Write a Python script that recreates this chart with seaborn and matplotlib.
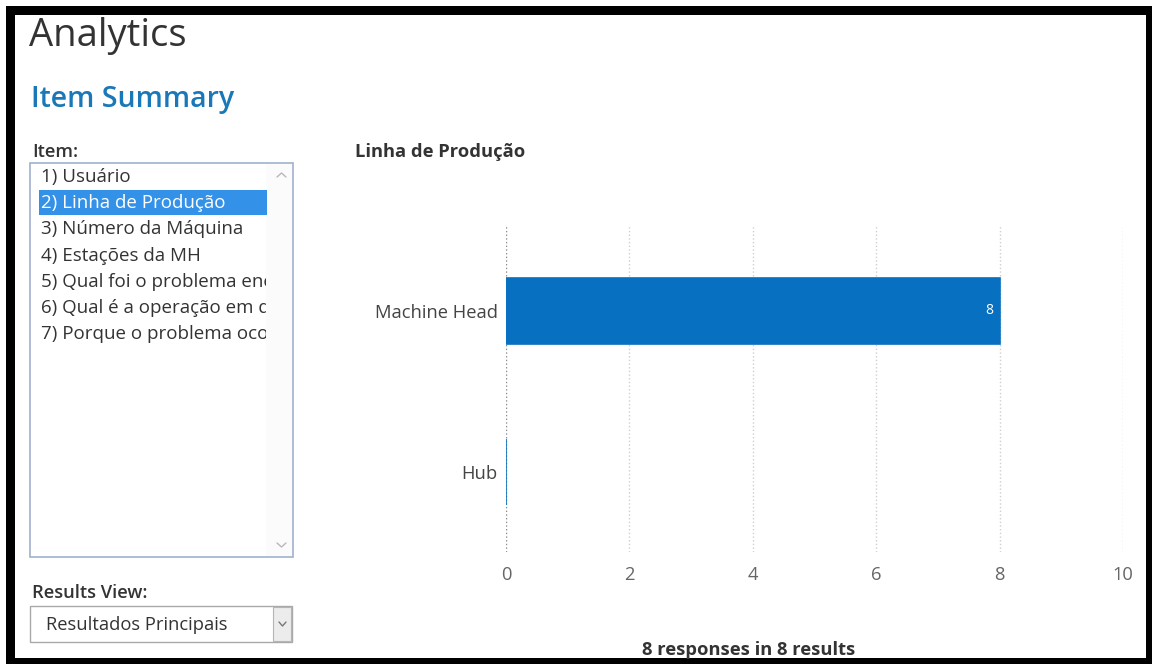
import matplotlib
matplotlib.use("Agg")
import matplotlib.pyplot as plt
from matplotlib.patches import Rectangle
from matplotlib.lines import Line2D
import seaborn as sns
import pandas as pd

# Chart data
categories = ["Machine Head", "Hub"]
counts = [8, 0]
x_ticks = [0, 2, 4, 6, 8, 10]

# Side panel contents
item_list = [
    "1) Usuário",
    "2) Linha de Produção",
    "3) Número da Máquina",
    "4) Estações da MH",
    "5) Qual foi o problema enc",
    "6) Qual é a operação em q",
    "7) Porque o problema oco",
]
selected_item = 1
chart_title = "Linha de Produção"
results_view = "Resultados Principais"
footer = "8 responses in 8 results"

sns.set_theme(style="white")
plt.rcParams["font.family"] = ["Open Sans", "DejaVu Sans"]

W, H = 1152, 664
fig = plt.figure(figsize=(W / 100, H / 100), dpi=100)
fig.patch.set_facecolor("white")

BODY = 13.2
TEXT = "#333333"


def fx(px):
    return px / W


def fy(py):
    return 1 - py / H


def frect(x0, y0, x1, y1, **kw):
    r = Rectangle((fx(x0), fy(y1)), fx(x1) - fx(x0), fy(y0) - fy(y1),
                  transform=fig.transFigure, **kw)
    fig.add_artist(r)
    return r


def fline(xs, ys, **kw):
    fig.add_artist(Line2D([fx(v) for v in xs], [fy(v) for v in ys],
                          transform=fig.transFigure, **kw))


# Bar chart axes
ax_l, ax_r, ax_t, ax_b = 506, 1123, 225, 552
ax = fig.add_axes([fx(ax_l), fy(ax_b), fx(ax_r) - fx(ax_l), fy(ax_t) - fy(ax_b)])
df = pd.DataFrame({"category": categories, "count": counts})
bar_color = "#0870c0"
sns.barplot(data=df, y="category", x="count", orient="h", color=bar_color,
            width=0.41, edgecolor=bar_color, linewidth=1.2, saturation=1,
            ax=ax, zorder=3)
ax.set_xlim(0, 10)
ax.set_ylim(1.497, -0.534)
ax.set_xticks(x_ticks)
ax.set_xlabel("")
ax.set_ylabel("")
for s in ax.spines.values():
    s.set_visible(False)
for t in x_ticks:
    ax.axvline(t, color="#8a8a8a" if t == 0 else "#cfcfcf", linestyle=":",
               linewidth=1.0, zorder=1)
ax.tick_params(axis="x", length=0, pad=10, labelsize=BODY, labelcolor="#666666")
ax.tick_params(axis="y", length=0, pad=6, labelsize=BODY, labelcolor="#444444")

# value labels inside the bars
for i, v in enumerate(counts):
    if v > 0:
        ax.text(v - 0.1, i, str(v), color="white", ha="right", va="center",
                fontsize=10, zorder=4)

# Page headings
fig.text(fx(29), fy(36), "Analytics", fontsize=27.5, color="#333333",
         ha="left", va="center")
fig.text(fx(31), fy(99), "Item Summary", fontsize=20.5, color="#1a78b8",
         fontweight="semibold", ha="left", va="center")
fig.text(fx(32), fy(152), "Item:", fontsize=BODY, color=TEXT,
         fontweight="semibold", ha="left", va="center")
fig.text(fx(355), fy(152), chart_title, fontsize=BODY, color=TEXT,
         fontweight="bold", ha="left", va="center")

# Item list box
frect(30, 163, 293, 557, facecolor="white", edgecolor="#9fb2cc", linewidth=1.2)
frect(266, 164, 292, 556, facecolor="#fbfbfb", edgecolor="none")
clip = frect(31, 164, 266, 556, facecolor="none", edgecolor="none")
row_y0, row_h = 177, 26.2
for i, label in enumerate(item_list):
    yc = row_y0 + i * row_h
    if i == selected_item:
        frect(39, yc - 13, 267, yc + 12, facecolor="#3391e8", edgecolor="none")
    t = fig.text(fx(41), fy(yc), label, fontsize=BODY + 0.3,
                 color="white" if i == selected_item else TEXT,
                 ha="left", va="center")
    t.set_clip_path(clip)
# scroll arrows
fline([277, 281.5, 286], [177, 173, 177], color="#b8b8b8", linewidth=1)
fline([277, 281.5, 286], [543, 547, 543], color="#b8b8b8", linewidth=1)

# Results view dropdown
fig.text(fx(32), fy(593), "Results View:", fontsize=BODY, color=TEXT,
         fontweight="semibold", ha="left", va="center")
frect(30, 606, 292, 642, facecolor="white", edgecolor="#a9a9a9", linewidth=1)
frect(273, 607, 291, 641, facecolor="#ececec", edgecolor="#b5b5b5", linewidth=0.8)
fig.text(fx(46), fy(625), results_view, fontsize=BODY, color=TEXT,
         ha="left", va="center")
fline([279, 282.5, 286], [622, 626, 622], color="#777777", linewidth=1)

# Footer
fig.text(fx(749), fy(650), footer, fontsize=BODY, color=TEXT,
         fontweight="bold", ha="center", va="center")

# Frame around the page
frect(6, 6, 15, 664, facecolor="black", edgecolor="none")
frect(6, 6, 1152, 15, facecolor="black", edgecolor="none")
frect(1146, 6, 1152, 664, facecolor="black", edgecolor="none")
frect(6, 658, 1152, 664, facecolor="black", edgecolor="none")

fig.savefig("out.png", dpi=100, facecolor="white")
